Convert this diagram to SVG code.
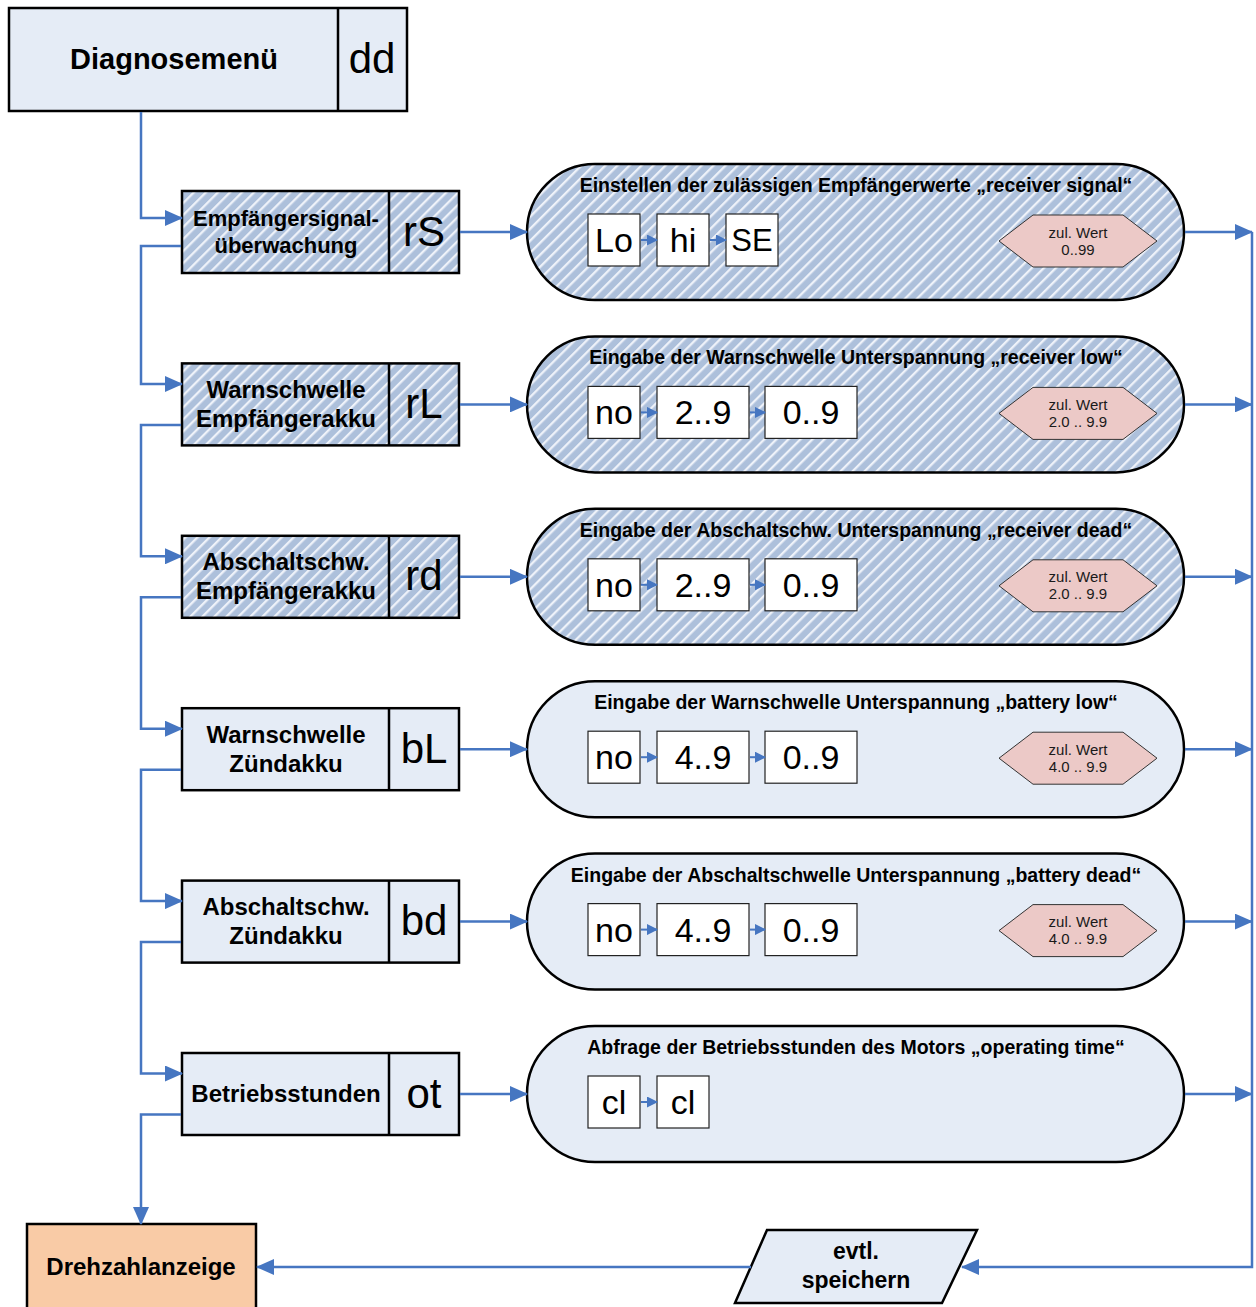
<svg xmlns="http://www.w3.org/2000/svg" width="1256" height="1307" viewBox="0 0 1256 1307">
<defs>
<pattern id="hatch" patternUnits="userSpaceOnUse" width="8.5" height="8.5" patternTransform="rotate(45)">
<rect width="8.5" height="8.5" fill="#adc0db"/>
<rect x="0" y="0" width="2.3" height="8.5" fill="#eef2f9"/>
</pattern>
<marker id="ah" markerWidth="18" markerHeight="16" refX="17" refY="8" orient="auto" markerUnits="userSpaceOnUse">
<path d="M0,0 L18,8 L0,16 z" fill="#4676c1"/>
</marker>
<marker id="as" markerWidth="11" markerHeight="11" refX="10" refY="5.5" orient="auto" markerUnits="userSpaceOnUse">
<path d="M0,0 L11,5.5 L0,11 z" fill="#4676c1"/>
</marker>
</defs>
<style>
.box{stroke:#000;stroke-width:2.5}
.plain{fill:#e5ecf6}
.hat{fill:url(#hatch)}
.div{stroke:#000;stroke-width:2.5}
.sb{fill:#fff;stroke:#222;stroke-width:1.2}
.hex{fill:#ecc9c7;stroke:#333;stroke-width:1}
.con{fill:none;stroke:#4676c1;stroke-width:2.5}
.ci{fill:none;stroke:#4676c1;stroke-width:2}
text{font-family:"Liberation Sans",Arial,sans-serif;fill:#000;text-anchor:middle;dominant-baseline:central}
.b24{font-weight:bold;font-size:24px}
.code{font-size:42px}
.title{font-weight:bold;font-size:19.5px}
.val{font-size:34px}
.hx{font-size:15px;fill:#1a1a1a}
</style>

<g id="diagnosemenu">
<rect class="box plain" x="9" y="8" width="398" height="103"/>
<line class="div" x1="338" y1="8" x2="338" y2="111"/>
<text x="174" y="59" style="font-weight:bold;font-size:29px">Diagnosemenü</text>
<text class="code" x="372" y="58">dd</text>
</g>

<g id="rS">
<rect class="box hat" x="182" y="191" width="277" height="82"/>
<line class="div" x1="389" y1="191" x2="389" y2="273"/>
<text class="b24" x="286" y="218" style="font-size:22px">Empfängersignal-</text>
<text class="b24" x="286" y="245" style="font-size:22px">überwachung</text>
<text class="code" x="424" y="231">rS</text>
</g>
<g id="rS-detail">
<rect class="box hat" x="527" y="164" width="657" height="136" rx="68"/>
<text class="title" x="856" y="185">Einstellen der zulässigen Empfängerwerte „receiver signal“</text>
<rect class="sb" x="588" y="214" width="52" height="52"/><text class="val" x="614" y="240">Lo</text>
<rect class="sb" x="657" y="214" width="52" height="52"/><text class="val" x="683" y="240">hi</text>
<rect class="sb" x="726" y="214" width="52" height="52"/><text class="val" x="752" y="240" style="font-size:31px">SE</text>
<polygon class="hex" points="999,241 1033,215 1123,215 1157,241 1123,267 1033,267"/>
<text class="hx" x="1078" y="232">zul. Wert</text>
<text class="hx" x="1078" y="249">0..99</text>
</g>

<g id="rL">
<rect class="box hat" x="182" y="363.4" width="277" height="82"/>
<line class="div" x1="389" y1="363.4" x2="389" y2="445.4"/>
<text class="b24" x="286" y="389.4">Warnschwelle</text>
<text class="b24" x="286" y="418.4">Empfängerakku</text>
<text class="code" x="424" y="403.4">rL</text>
</g>
<g id="rL-detail">
<rect class="box hat" x="527" y="336.4" width="657" height="136" rx="68"/>
<text class="title" x="856" y="357.4">Eingabe der Warnschwelle Unterspannung „receiver low“</text>
<rect class="sb" x="588" y="386.4" width="52" height="52"/><text class="val" x="614" y="412.4">no</text>
<rect class="sb" x="657" y="386.4" width="92" height="52"/><text class="val" x="703" y="412.4">2..9</text>
<rect class="sb" x="765" y="386.4" width="92" height="52"/><text class="val" x="811" y="412.4">0..9</text>
<polygon class="hex" points="999,413.4 1033,387.4 1123,387.4 1157,413.4 1123,439.4 1033,439.4"/>
<text class="hx" x="1078" y="404.4">zul. Wert</text>
<text class="hx" x="1078" y="421.4">2.0 .. 9.9</text>
</g>

<g id="rd">
<rect class="box hat" x="182" y="535.8" width="277" height="82"/>
<line class="div" x1="389" y1="535.8" x2="389" y2="617.8"/>
<text class="b24" x="286" y="561.8">Abschaltschw.</text>
<text class="b24" x="286" y="590.8">Empfängerakku</text>
<text class="code" x="424" y="575.8">rd</text>
</g>
<g id="rd-detail">
<rect class="box hat" x="527" y="508.8" width="657" height="136" rx="68"/>
<text class="title" x="856" y="529.8">Eingabe der Abschaltschw. Unterspannung „receiver dead“</text>
<rect class="sb" x="588" y="558.8" width="52" height="52"/><text class="val" x="614" y="584.8">no</text>
<rect class="sb" x="657" y="558.8" width="92" height="52"/><text class="val" x="703" y="584.8">2..9</text>
<rect class="sb" x="765" y="558.8" width="92" height="52"/><text class="val" x="811" y="584.8">0..9</text>
<polygon class="hex" points="999,585.8 1033,559.8 1123,559.8 1157,585.8 1123,611.8 1033,611.8"/>
<text class="hx" x="1078" y="576.8">zul. Wert</text>
<text class="hx" x="1078" y="593.8">2.0 .. 9.9</text>
</g>

<g id="bL">
<rect class="box plain" x="182" y="708.2" width="277" height="82"/>
<line class="div" x1="389" y1="708.2" x2="389" y2="790.2"/>
<text class="b24" x="286" y="734.2">Warnschwelle</text>
<text class="b24" x="286" y="763.2">Zündakku</text>
<text class="code" x="424" y="748.2">bL</text>
</g>
<g id="bL-detail">
<rect class="box plain" x="527" y="681.2" width="657" height="136" rx="68"/>
<text class="title" x="856" y="702.2">Eingabe der Warnschwelle Unterspannung „battery low“</text>
<rect class="sb" x="588" y="731.2" width="52" height="52"/><text class="val" x="614" y="757.2">no</text>
<rect class="sb" x="657" y="731.2" width="92" height="52"/><text class="val" x="703" y="757.2">4..9</text>
<rect class="sb" x="765" y="731.2" width="92" height="52"/><text class="val" x="811" y="757.2">0..9</text>
<polygon class="hex" points="999,758.2 1033,732.2 1123,732.2 1157,758.2 1123,784.2 1033,784.2"/>
<text class="hx" x="1078" y="749.2">zul. Wert</text>
<text class="hx" x="1078" y="766.2">4.0 .. 9.9</text>
</g>

<g id="bd">
<rect class="box plain" x="182" y="880.6" width="277" height="82"/>
<line class="div" x1="389" y1="880.6" x2="389" y2="962.6"/>
<text class="b24" x="286" y="906.6">Abschaltschw.</text>
<text class="b24" x="286" y="935.6">Zündakku</text>
<text class="code" x="424" y="920.6">bd</text>
</g>
<g id="bd-detail">
<rect class="box plain" x="527" y="853.6" width="657" height="136" rx="68"/>
<text class="title" x="856" y="874.6">Eingabe der Abschaltschwelle Unterspannung „battery dead“</text>
<rect class="sb" x="588" y="903.6" width="52" height="52"/><text class="val" x="614" y="929.6">no</text>
<rect class="sb" x="657" y="903.6" width="92" height="52"/><text class="val" x="703" y="929.6">4..9</text>
<rect class="sb" x="765" y="903.6" width="92" height="52"/><text class="val" x="811" y="929.6">0..9</text>
<polygon class="hex" points="999,930.6 1033,904.6 1123,904.6 1157,930.6 1123,956.6 1033,956.6"/>
<text class="hx" x="1078" y="921.6">zul. Wert</text>
<text class="hx" x="1078" y="938.6">4.0 .. 9.9</text>
</g>

<g id="ot">
<rect class="box plain" x="182" y="1053" width="277" height="82"/>
<line class="div" x1="389" y1="1053" x2="389" y2="1135"/>
<text class="b24" x="286" y="1093">Betriebsstunden</text>
<text class="code" x="424" y="1093">ot</text>
</g>
<g id="ot-detail">
<rect class="box plain" x="527" y="1026" width="657" height="136" rx="68"/>
<text class="title" x="856" y="1047">Abfrage der Betriebsstunden des Motors „operating time“</text>
<rect class="sb" x="588" y="1076" width="52" height="52"/><text class="val" x="614" y="1102">cl</text>
<rect class="sb" x="657" y="1076" width="52" height="52"/><text class="val" x="683" y="1102">cl</text>
</g>

<g id="speichern">
<polygon class="box plain" points="767,1230 977,1230 942,1303 735,1303"/>
<text class="b24" x="856" y="1251" style="font-size:23px">evtl.</text>
<text class="b24" x="856" y="1280" style="font-size:23px">speichern</text>
</g>

<g id="drehzahlanzeige">
<rect class="box" x="27" y="1224" width="229" height="100" fill="#f9cba6"/>
<text class="b24" x="141" y="1266">Drehzahlanzeige</text>
</g>

<g id="connectors">
<path class="con" d="M141,112 V218 H182" marker-end="url(#ah)"/>
<path class="con" d="M181,246 H141 V384 H182" marker-end="url(#ah)"/>
<path class="con" d="M181,425 H141 V556.3 H182" marker-end="url(#ah)"/>
<path class="con" d="M181,597.3 H141 V728.7 H182" marker-end="url(#ah)"/>
<path class="con" d="M181,769.7 H141 V901.1 H182" marker-end="url(#ah)"/>
<path class="con" d="M181,942.1 H141 V1073.5 H182" marker-end="url(#ah)"/>
<path class="con" d="M181,1114.5 H141 V1224" marker-end="url(#ah)"/>
<path class="con" d="M460,232 H527" marker-end="url(#ah)"/>
<path class="con" d="M460,404.4 H527" marker-end="url(#ah)"/>
<path class="con" d="M460,576.8 H527" marker-end="url(#ah)"/>
<path class="con" d="M460,749.2 H527" marker-end="url(#ah)"/>
<path class="con" d="M460,921.6 H527" marker-end="url(#ah)"/>
<path class="con" d="M460,1094 H527" marker-end="url(#ah)"/>
<path class="con" d="M1185,232 H1252" marker-end="url(#ah)"/>
<path class="con" d="M1185,404.4 H1252" marker-end="url(#ah)"/>
<path class="con" d="M1185,576.8 H1252" marker-end="url(#ah)"/>
<path class="con" d="M1185,749.2 H1252" marker-end="url(#ah)"/>
<path class="con" d="M1185,921.6 H1252" marker-end="url(#ah)"/>
<path class="con" d="M1185,1094 H1252" marker-end="url(#ah)"/>
<path class="con" d="M1252,232 V1267 H962" marker-end="url(#ah)"/>
<path class="con" d="M751,1267 H257" marker-end="url(#ah)"/>
<path class="ci" d="M641,240 H657" marker-end="url(#as)"/>
<path class="ci" d="M710,240 H726" marker-end="url(#as)"/>
<path class="ci" d="M641,412.4 H657" marker-end="url(#as)"/>
<path class="ci" d="M750,412.4 H765" marker-end="url(#as)"/>
<path class="ci" d="M641,584.8 H657" marker-end="url(#as)"/>
<path class="ci" d="M750,584.8 H765" marker-end="url(#as)"/>
<path class="ci" d="M641,757.2 H657" marker-end="url(#as)"/>
<path class="ci" d="M750,757.2 H765" marker-end="url(#as)"/>
<path class="ci" d="M641,929.6 H657" marker-end="url(#as)"/>
<path class="ci" d="M750,929.6 H765" marker-end="url(#as)"/>
<path class="ci" d="M641,1102 H657" marker-end="url(#as)"/>
</g>
</svg>
